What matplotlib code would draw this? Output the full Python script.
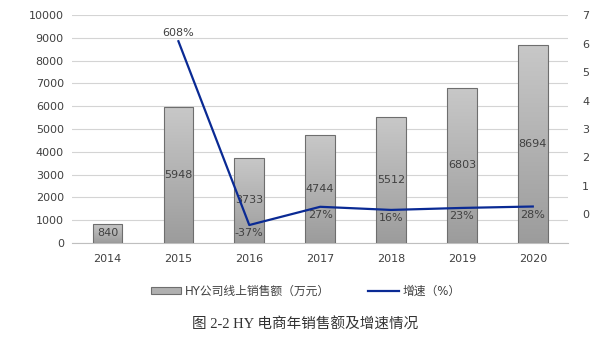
import numpy as np
import matplotlib
matplotlib.use("Agg")
import matplotlib.pyplot as plt
from matplotlib.lines import Line2D
from matplotlib.patches import Patch

plt.rcParams['font.family'] = ['DejaVu Sans', 'Noto Sans CJK SC']

years = ['2014', '2015', '2016', '2017', '2018', '2019', '2020']
sales = [840, 5948, 3733, 4744, 5512, 6803, 8694]
# growth starts from 2015
growth = [6.08, -0.37, 0.27, 0.16, 0.23, 0.28]
growth_labels = ['608%', '-37%', '27%', '16%', '23%', '28%']

fig = plt.figure(figsize=(6.11, 3.54), dpi=100)
ax = fig.add_axes([0.118, 0.3136, 0.812, 0.644])
ax2 = ax.twinx()

x = np.arange(len(years))
bars = ax.bar(x, sales, width=0.42, color='#b4b4b4', edgecolor='#6e6e6e', linewidth=0.8, zorder=2)

# vertical gradient in each bar
grad = np.linspace(0, 1, 256).reshape(-1, 1)
cmap = matplotlib.colors.LinearSegmentedColormap.from_list('g', ['#9c9c9c', '#c8c8c8'])
for b in bars:
    x0, y0 = b.get_x(), b.get_y()
    w, h = b.get_width(), b.get_height()
    im = ax.imshow(grad, cmap=cmap, aspect='auto', origin='lower',
                   extent=[x0, x0 + w, y0, y0 + h], zorder=2.5)
    im.set_clip_path(b)
    b.set_facecolor('none')
    b.set_zorder(3)

for xi, v in zip(x, sales):
    ax.text(xi, v / 2, str(v), ha='center', va='center', fontsize=8, color='#404040', zorder=4)

ax.set_xlim(-0.5, len(years) - 0.5)
ax.set_ylim(0, 10000)
ax.set_yticks(range(0, 10001, 1000))
ax.set_xticks(x)
ax.set_xticklabels(years)
ax.grid(axis='y', color='#d4d4d4', linewidth=0.8, zorder=0)
ax.set_axisbelow(True)
for s in ['top', 'left', 'right']:
    ax.spines[s].set_visible(False)
ax.spines['bottom'].set_color('#bfbfbf')
ax.tick_params(axis='both', length=0, labelsize=8, colors='#404040')
ax.tick_params(axis='x', pad=8)
ax.tick_params(axis='y', pad=6)

xg = x[1:]
ax2.plot(xg, growth, color='#0a2a94', linewidth=1.6, zorder=5)
ax2.set_ylim(-1, 7)
ax2.set_yticks(range(-1, 8))
ax2.set_yticklabels([''] + [str(i) for i in range(0, 8)])
for s in ax2.spines.values():
    s.set_visible(False)
ax2.tick_params(axis='y', length=0, labelsize=8, colors='#404040', pad=10)

for i, (xi, g, lab) in enumerate(zip(xg, growth, growth_labels)):
    if i == 0:
        ax2.text(xi, g + 0.1, lab, ha='center', va='bottom', fontsize=8, color='#404040')
    else:
        ax2.text(xi, g - 0.12, lab, ha='center', va='top', fontsize=8, color='#404040')

handles = [Patch(facecolor='#b0b0b0', edgecolor='#6e6e6e', linewidth=0.8),
           Line2D([0], [0], color='#0a2a94', linewidth=1.6)]
fig.legend(handles, ['HY公司线上销售额（万元）', '增速（%）'], loc='center',
           bbox_to_anchor=(0.5, 0.178), ncol=2, frameon=False, fontsize=8.5,
           handlelength=2.6, handleheight=0.6, columnspacing=3.2, handletextpad=0.3,
           labelcolor='#404040')

fig.text(0.5, 0.083, '图 2-2 HY 电商年销售额及增速情况', ha='center', va='center',
         fontsize=10.5, color='#333333', family=['Liberation Serif', 'Noto Sans CJK SC'])

fig.savefig('out.png', dpi=100)
